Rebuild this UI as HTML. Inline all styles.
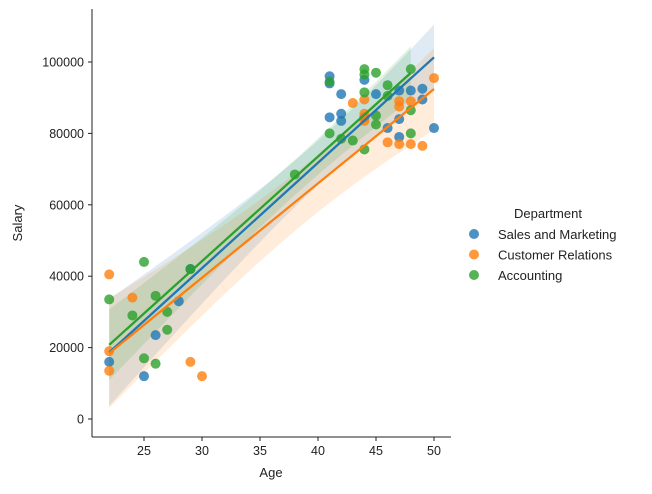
<!DOCTYPE html>
<html><head><meta charset="utf-8"><style>
body{margin:0;background:#fff;}
svg{font-family:"Liberation Sans","DejaVu Sans",sans-serif;}
</style></head><body>
<svg id="chart" width="652" height="489" viewBox="0 0 652 489">
<g id="bands"></g><g id="pts"></g><g id="lines"></g><g id="axes"></g><g id="legend"></g>
</svg>
<script>
const seriesNames = ["Sales and Marketing","Customer Relations","Accounting"];
const seriesColors = ["#1f77b4","#ff7f0e","#2ca02c"];
const salesAge = [22,25,26,28,29,41,41,41,42,42,42,44,45,46,47,47,47,48,49,49,50,44];
const salesSalary = [16000,12000,23500,33000,42000,96000,94000,84500,91000,85500,83500,95000,91000,81500,92000,84000,79000,92000,92500,89500,81500,84500];
const crAge = [22,22,22,24,29,30,43,44,44,46,47,47,47,48,48,49,50,44];
const crSalary = [40500,19000,13500,34000,16000,12000,88500,89500,85500,77500,89000,87500,77000,89000,77000,76500,95500,83500];
const accAge = [22,25,24,26,25,26,27,27,29,38,41,41,42,43,44,44,44,44,45,45,45,46,46,48,48,48];
const accSalary = [33500,44000,29000,34500,17000,15500,30000,25000,42000,68500,80000,94500,78500,78000,98000,96500,91500,75500,97000,85000,82500,93500,90500,98000,86500,80000];
const xTicks = [25,30,35,40,45,50];
const yTicks = [0,20000,40000,60000,80000,100000];

const NS="http://www.w3.org/2000/svg";
const X = v => 86 + (v-20)*11.6;
const Y = v => 419 - v*0.00357;
function mk(tag, attrs, parent){const e=document.createElementNS(NS,tag);for(const k in attrs)e.setAttribute(k,attrs[k]);document.getElementById(parent).appendChild(e);return e;}

const all=[[salesAge,salesSalary],[crAge,crSalary],[accAge,accSalary]];
all.forEach((d,si)=>{
  const xs=d[0], ys=d[1], n=xs.length, c=seriesColors[si];
  const mx=xs.reduce((a,b)=>a+b)/n, my=ys.reduce((a,b)=>a+b)/n;
  let sxx=0,sxy=0; for(let i=0;i<n;i++){sxx+=(xs[i]-mx)**2;sxy+=(xs[i]-mx)*(ys[i]-my);}
  const b=sxy/sxx, a=my-b*mx;
  let sse=0; for(let i=0;i<n;i++)sse+=(ys[i]-a-b*xs[i])**2;
  const s=Math.sqrt(sse/(n-2));
  const x0=Math.min(...xs), x1=Math.max(...xs);
  let up=[],lo=[];
  for(let k=0;k<=40;k++){const x=x0+(x1-x0)*k/40;const se=2.6*s*Math.sqrt(1/n+(x-mx)**2/sxx);const yh=a+b*x;up.push(X(x)+","+Y(yh+se));lo.unshift(X(x)+","+Y(yh-se));}
  const band=mk("polygon",{points:up.concat(lo).join(" "),fill:c,"fill-opacity":0.15},"bands");
  
  
  for(let i=0;i<n;i++){
    const p=mk("circle",{cx:X(xs[i]),cy:Y(ys[i]),r:5,fill:c,"fill-opacity":0.8},"pts");
    
    
  }
  const l=mk("line",{x1:X(x0),y1:Y(a+b*x0),x2:X(x1),y2:Y(a+b*x1),stroke:c,"stroke-width":2.3},"lines");
  
  
  const lc=mk("circle",{cx:474,cy:234+si*20.5,r:5,fill:c,"fill-opacity":0.8},"legend");
  
  
  const lt=mk("text",{x:498,y:239+si*20.5,"font-size":13,fill:"#222"},"legend");lt.textContent=seriesNames[si];
  
  
});
const lgt=mk("text",{x:548,y:218,"font-size":13,"text-anchor":"middle",fill:"#222"},"legend");lgt.textContent="Department";



const sp1=mk("line",{x1:92,y1:9,x2:92,y2:437,stroke:"#222","stroke-width":1},"axes");


const sp2=mk("line",{x1:92,y1:437,x2:451,y2:437,stroke:"#222","stroke-width":1},"axes");


xTicks.forEach(t=>{
  mk("line",{x1:X(t),y1:437,x2:X(t),y2:441,stroke:"#222"},"axes");
  const tx=mk("text",{x:X(t),y:455,"font-size":12.5,"text-anchor":"middle",fill:"#222"},"axes");tx.textContent=t;
  
  
});
yTicks.forEach(t=>{
  mk("line",{x1:88,y1:Y(t),x2:92,y2:Y(t),stroke:"#222"},"axes");
  const tx=mk("text",{x:84,y:Y(t)+4.5,"font-size":12.5,"text-anchor":"end",fill:"#222"},"axes");tx.textContent=t;
  
  
});
const xl=mk("text",{x:271,y:477,"font-size":13,"text-anchor":"middle",fill:"#222"},"axes");xl.textContent="Age";


const yl=mk("text",{x:22,y:223,"font-size":13,"text-anchor":"middle",fill:"#222",transform:"rotate(-90 22 223)"},"axes");yl.textContent="Salary";


</script>
</body></html>
